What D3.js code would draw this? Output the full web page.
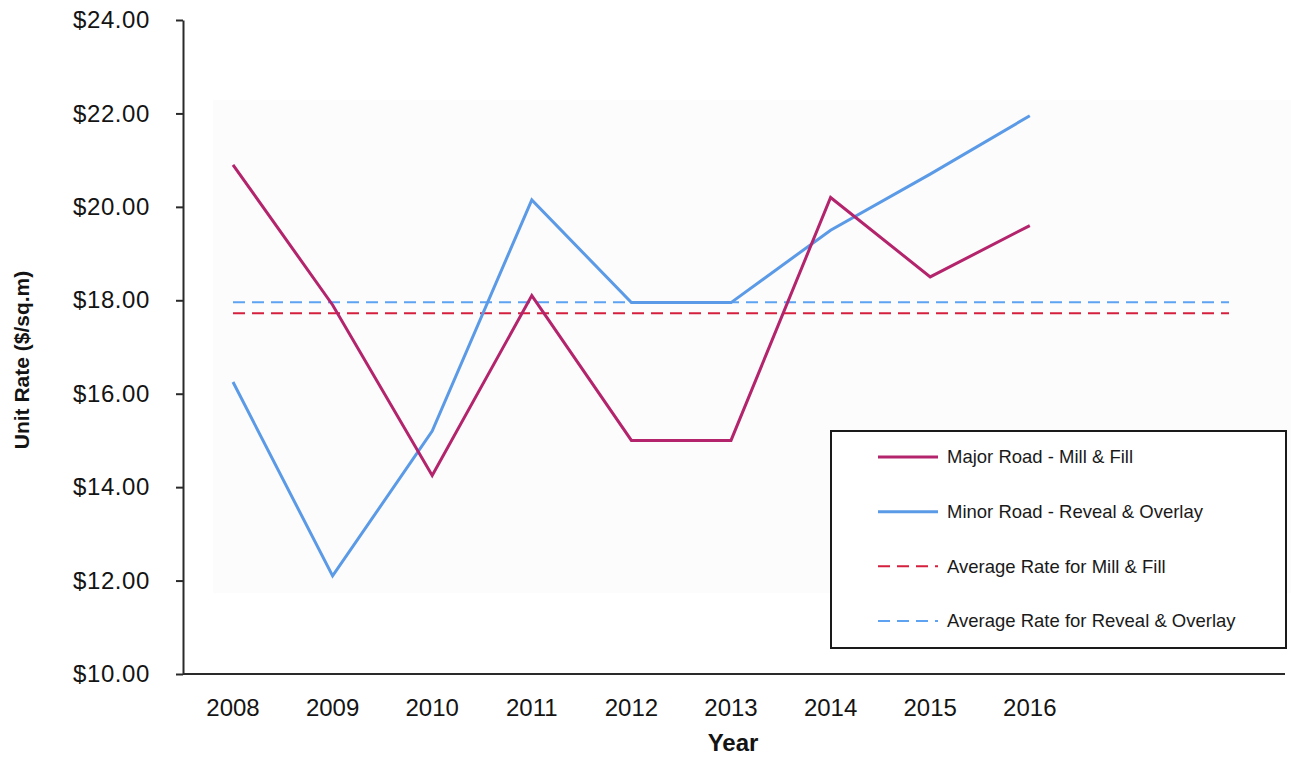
<!DOCTYPE html>
<html>
<head>
<meta charset="utf-8">
<script src="https://cdn.jsdelivr.net/npm/d3@7"></script>
<style>
  html, body { margin: 0; padding: 0; background: #ffffff; }
  svg { display: block; font-family: "Liberation Sans", Arial, sans-serif; }
</style>
</head>
<body>
<svg id="chart" width="1291" height="759"></svg>
<script>
// Unit rates per year for the two treatment types
const years = [2008, 2009, 2010, 2011, 2012, 2013, 2014, 2015, 2016];
const majorMillFill = [20.9, 17.9, 14.25, 18.1, 15.0, 15.0, 20.2, 18.5, 19.6];
const minorRevealOverlay = [16.25, 12.1, 15.2, 20.15, 17.95, 17.95, 19.5, 20.7, 21.95];
const avgMillFill = 17.72;
const avgRevealOverlay = 17.96;
const avgSpan = [2008, 2018];
const yTicks = [10, 12, 14, 16, 18, 20, 22, 24];
const legendLabels = [
  "Major Road - Mill & Fill",
  "Minor Road - Reveal & Overlay",
  "Average Rate for Mill & Fill",
  "Average Rate for Reveal & Overlay"
];

const svg = d3.select("#chart");

const x = d3.scalePoint()
  .domain(d3.range(2008, 2019))
  .range([233, 1229]);

const y = d3.scaleLinear()
  .domain([10, 24])
  .range([674, 20]);

const colMajor = "#b3246c";
const colMinor = "#5b9ae6";
const colAvgMajor = "#d4203e";
const colAvgMinor = "#5ea3f2";

// faint panel behind the plot
svg.append("rect")
  .attr("x", 213).attr("y", 100)
  .attr("width", 1291 - 213).attr("height", 493)
  .attr("fill", "#fcfcfc");

// average lines
[[avgRevealOverlay, colAvgMinor], [avgMillFill, colAvgMajor]].forEach(([v, c]) => {
  svg.append("line")
    .attr("x1", x(avgSpan[0])).attr("x2", x(avgSpan[1]))
    .attr("y1", y(v)).attr("y2", y(v))
    .attr("stroke", c).attr("stroke-width", 2)
    .attr("stroke-dasharray", "12,7");
});

// series lines
const line = d3.line()
  .x((d, i) => x(years[i]))
  .y(d => y(d));

svg.append("path")
  .datum(minorRevealOverlay)
  .attr("d", line)
  .attr("fill", "none")
  .attr("stroke", colMinor)
  .attr("stroke-width", 3)
  .attr("stroke-linejoin", "miter");

svg.append("path")
  .datum(majorMillFill)
  .attr("d", line)
  .attr("fill", "none")
  .attr("stroke", colMajor)
  .attr("stroke-width", 3)
  .attr("stroke-linejoin", "miter");

// y axis
const yAxis = d3.axisLeft(y)
  .tickValues(yTicks)
  .tickSize(7)
  .tickSizeOuter(0)
  .tickPadding(26)
  .tickFormat(d => "$" + d.toFixed(2));

const gy = svg.append("g")
  .attr("transform", "translate(183,0)")
  .call(yAxis);
gy.select(".domain").attr("stroke", "#2a2a2a").attr("stroke-width", 2);
gy.selectAll(".tick line").attr("stroke", "#2a2a2a").attr("stroke-width", 2);
gy.selectAll(".tick text")
  .attr("fill", "#141414")
  .style("font-size", "24px")
  .style("letter-spacing", "0.6px")
  .style("font-family", "'Liberation Sans', Arial, sans-serif");

// x axis baseline
svg.append("line")
  .attr("x1", 183).attr("x2", 1285)
  .attr("y1", y(10)).attr("y2", y(10))
  .attr("stroke", "#2a2a2a").attr("stroke-width", 2);

// year labels
svg.append("g").selectAll("text")
  .data(years)
  .join("text")
  .attr("x", d => x(d))
  .attr("y", 716)
  .attr("text-anchor", "middle")
  .attr("fill", "#141414")
  .style("font-size", "24px")
  .text(d => d);

// axis titles
svg.append("text")
  .attr("x", 733).attr("y", 751)
  .attr("text-anchor", "middle")
  .attr("fill", "#141414")
  .style("font-size", "24px")
  .style("font-weight", "bold")
  .text("Year");

svg.append("text")
  .attr("transform", "translate(29,360) rotate(-90)")
  .attr("text-anchor", "middle")
  .attr("fill", "#141414")
  .style("font-size", "21px")
  .style("font-weight", "bold")
  .text("Unit Rate ($/sq.m)");

// legend
const legend = svg.append("g");
legend.append("rect")
  .attr("x", 831).attr("y", 431)
  .attr("width", 455).attr("height", 217)
  .attr("fill", "#ffffff")
  .attr("stroke", "#1a1a1a").attr("stroke-width", 2);

const legendStyles = [
  { color: colMajor, dash: null, width: 3 },
  { color: colMinor, dash: null, width: 3 },
  { color: colAvgMajor, dash: "12,7", width: 2 },
  { color: colAvgMinor, dash: "12,7", width: 2 }
];

const rowY = d3.scalePoint().domain(d3.range(4)).range([457, 621]);

legendLabels.forEach((label, i) => {
  const s = legendStyles[i];
  legend.append("line")
    .attr("x1", 878).attr("x2", 938)
    .attr("y1", rowY(i)).attr("y2", rowY(i))
    .attr("stroke", s.color).attr("stroke-width", s.width)
    .attr("stroke-dasharray", s.dash);
  legend.append("text")
    .attr("x", 947).attr("y", rowY(i))
    .attr("dy", "0.35em")
    .attr("fill", "#1a1a1a")
    .style("font-size", "18.5px")
    .text(label);
});
</script>
</body>
</html>
